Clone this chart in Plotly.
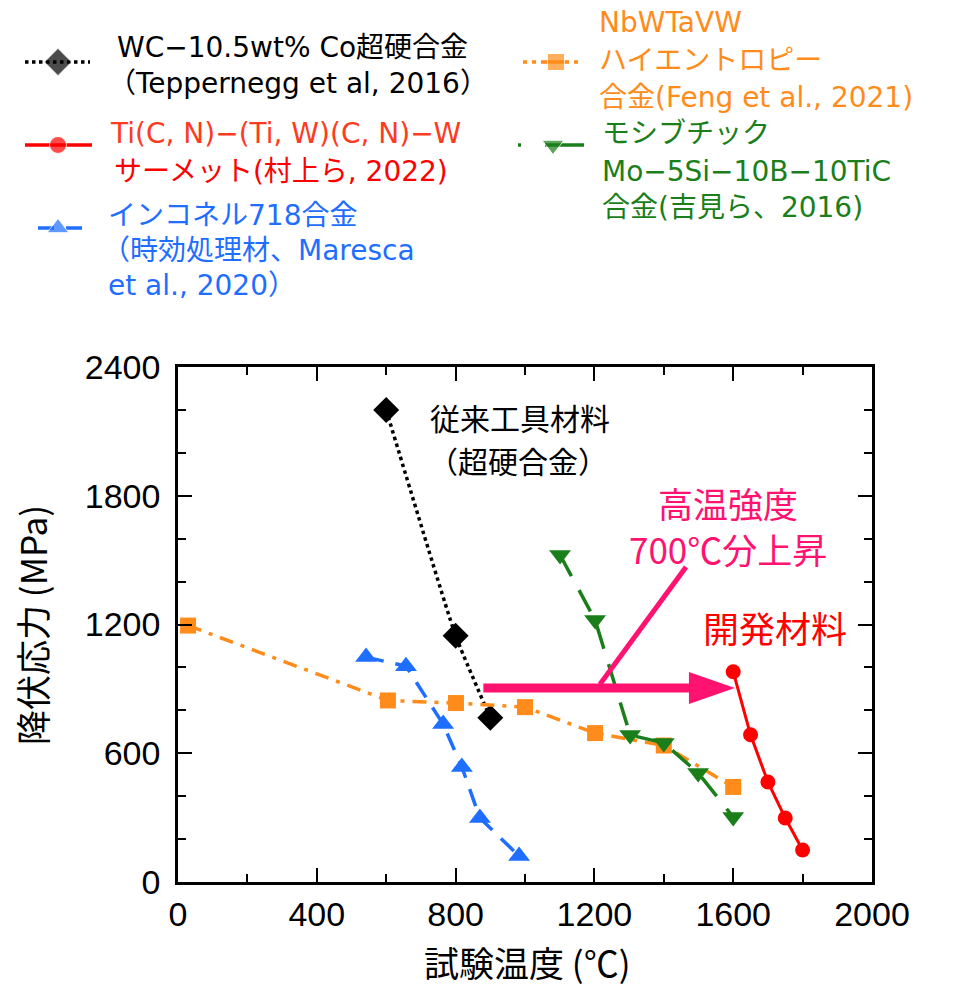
import plotly.graph_objects as go

W, H = 967, 990

# ---- data ----
wc_x = [600, 800, 900]
wc_y = [2200, 1148, 765]

cermet_x = [1600, 1650, 1700, 1750, 1800]
cermet_y = [980, 686, 466, 298, 149]

inconel_x = [542, 657, 764, 818, 870, 983]
inconel_y = [1048, 1006, 736, 536, 298, 121]

hea_x = [29, 605, 801, 1000, 1202, 1400, 1600]
hea_y = [1195, 846, 834, 815, 694, 636, 443]

moly_x = [1101, 1202, 1303, 1400, 1499, 1600]
moly_y = [1524, 1221, 685, 648, 508, 303]

x_ticks = [0, 400, 800, 1200, 1600, 2000]
y_ticks = [0, 600, 1200, 1800, 2400]

arrow_start = (880, 904)
arrow_tip = (1605, 904)
pointer_from = (1216, 922)
pointer_to = (1464, 1468)

BLACK = "#000000"
RED = "#ff0000"
RED2 = "#ff3b1f"
BLUE = "#1e6eff"
ORANGE = "#ff8c1a"
GREEN = "#1a7f1a"
PINK = "#ff1270"

JP = "Noto Sans CJK JP"
LEG = "DejaVu Sans, Noto Sans CJK JP"
NUM = "Liberation Sans, Arial, sans-serif"

# plot area in pixels
PL, PR, PT, PB = 178, 872, 367, 882

fig = go.Figure()

fig.add_trace(go.Scatter(x=wc_x, y=wc_y, mode="lines+markers",
                         line=dict(color=BLACK, width=3.5, dash="dot", shape="spline", smoothing=0.4),
                         marker=dict(symbol="diamond", size=20, color=BLACK), showlegend=False))
fig.add_trace(go.Scatter(x=hea_x, y=hea_y, mode="lines+markers",
                         line=dict(color=ORANGE, width=3.5, dash="14px,8px,4px,8px"),
                         marker=dict(symbol="square", size=16, color=ORANGE), showlegend=False))
fig.add_trace(go.Scatter(x=inconel_x, y=inconel_y, mode="lines+markers",
                         line=dict(color=BLUE, width=3.5, dash="18px,12px"),
                         marker=dict(symbol="triangle-up", size=19, color=BLUE), showlegend=False))
fig.add_trace(go.Scatter(x=moly_x, y=moly_y, mode="lines+markers",
                         line=dict(color=GREEN, width=3.5, dash="24px,16px"),
                         marker=dict(symbol="triangle-down", size=19, color=GREEN), showlegend=False))
fig.add_trace(go.Scatter(x=cermet_x, y=cermet_y, mode="lines+markers",
                         line=dict(color=RED, width=3),
                         marker=dict(symbol="circle", size=15, color=RED), showlegend=False))

# ---- arrow (data coords) ----
tri_len = 46 / ((PR - PL) / 2000)
tri_half = 16 / ((PB - PT) / 2400)
fig.add_shape(type="line", xref="x", yref="y",
              x0=arrow_start[0], y0=arrow_start[1], x1=arrow_tip[0] - tri_len + 5, y1=arrow_tip[1],
              line=dict(color=PINK, width=9))
fig.add_shape(type="path", xref="x", yref="y",
              path=f"M{arrow_tip[0]},{arrow_tip[1]} L{arrow_tip[0]-tri_len},{arrow_tip[1]+tri_half} "
                   f"L{arrow_tip[0]-tri_len},{arrow_tip[1]-tri_half} Z",
              fillcolor=PINK, line=dict(color=PINK, width=0))
fig.add_shape(type="line", xref="x", yref="y",
              x0=pointer_from[0], y0=pointer_from[1], x1=pointer_to[0], y1=pointer_to[1],
              line=dict(color=PINK, width=5))

# ---- legend samples on a pixel helper axis ----
leg = [
    ([25, 58, 90], 62, BLACK, "dot", "diamond", [0, 21, 0]),
    ([25, 58, 92], 145, RED, "solid", "circle", [0, 17, 0]),
    ([38, 58, 87], 228, BLUE, "16px,12px", "triangle-up", [0, 19, 0]),
    ([523, 556, 582], 62, ORANGE, "4px,5px,4px,5px,28px,5px", "square", [0, 17, 0]),
    ([518, 553, 584], 145, GREEN, "3px,24px,60px", "triangle-down", [0, 19, 0]),
]
for xs, yy, col, dash, sym, sizes in leg:
    fig.add_trace(go.Scatter(x=xs, y=[yy] * 3, xaxis="x2", yaxis="y2", mode="lines+markers",
                             line=dict(color=col, width=3.5, dash=dash),
                             marker=dict(symbol=sym, size=sizes, color=col), showlegend=False))

legend_texts = [
    ("WC−10.5wt% Co超硬合金", 115, 47, BLACK),
    ("（Teppernegg et al, 2016）", 106, 83, BLACK),
    ("Ti(C, N)−(Ti, W)(C, N)−W", 108, 133, RED2),
    ("サーメット(村上ら, 2022)", 112, 171, RED),
    ("インコネル718合金", 106, 215, BLUE),
    ("（時効処理材、Maresca", 100, 250, BLUE),
    ("et al., 2020）", 106, 285, BLUE),
    ("NbWTaVW", 597, 22, ORANGE),
    ("ハイエントロピー", 597, 60, ORANGE),
    ("合金(Feng et al., 2021)", 597, 97, ORANGE),
    ("モシブチック", 600, 133, GREEN),
    ("Mo−5Si−10B−10TiC", 600, 171, GREEN),
    ("合金(吉見ら、2016)", 600, 207, GREEN),
]
for t, x, y, col in legend_texts:
    fig.add_annotation(text=t, x=x, y=y, xref="x2", yref="y2", showarrow=False,
                       xanchor="left", yanchor="middle", font=dict(family=LEG, size=28, color=col))

chart_texts = [
    ("従来工具材料", 520, 417, BLACK, 30),
    ("（超硬合金）", 518, 460, BLACK, 30),
    ("高温強度", 728, 502, PINK, 35),
    ("700℃分上昇", 728, 548, PINK, 35),
    ("開発材料", 775, 627, RED, 36),
    ("試験温度 (℃)", 527, 961, BLACK, 35),
]
for t, x, y, col, sz in chart_texts:
    fig.add_annotation(text=t, x=x, y=y, xref="x2", yref="y2", showarrow=False,
                       xanchor="center", yanchor="middle", font=dict(family=JP, size=sz, color=col))
fig.add_annotation(text="降伏応力 (MPa)", x=31, y=625, xref="x2", yref="y2", showarrow=False,
                   textangle=-90, xanchor="center", yanchor="middle",
                   font=dict(family=JP, size=35, color=BLACK))

axis_common = dict(ticks="inside", ticklen=14, tickwidth=2, tickcolor="black",
                   minor=dict(dtick=200, ticks="inside", ticklen=8, tickwidth=2, tickcolor="black"),
                   showline=True, linecolor="black", linewidth=2.5, mirror="ticks",
                   showgrid=False, zeroline=False, automargin=False,
                   tickfont=dict(family=NUM, size=34, color="black"))

fig.update_layout(
    width=W, height=H, autosize=False,
    margin=dict(l=0, r=0, t=0, b=0),
    paper_bgcolor="white", plot_bgcolor="rgba(0,0,0,0)",
    showlegend=False,
    xaxis=dict(domain=[PL / W, PR / W], range=[0, 2000], tickvals=x_ticks, anchor="y", **axis_common),
    yaxis=dict(domain=[(H - PB) / H, (H - PT) / H], range=[0, 2400], tickvals=y_ticks, anchor="x",
               ticklabelstandoff=8, **axis_common),
    xaxis2=dict(domain=[0, 1], range=[0, W], visible=False, anchor="y2", fixedrange=True),
    yaxis2=dict(domain=[0, 1], range=[H, 0], visible=False, anchor="x2", fixedrange=True),
)

fig.write_html("out.html")
